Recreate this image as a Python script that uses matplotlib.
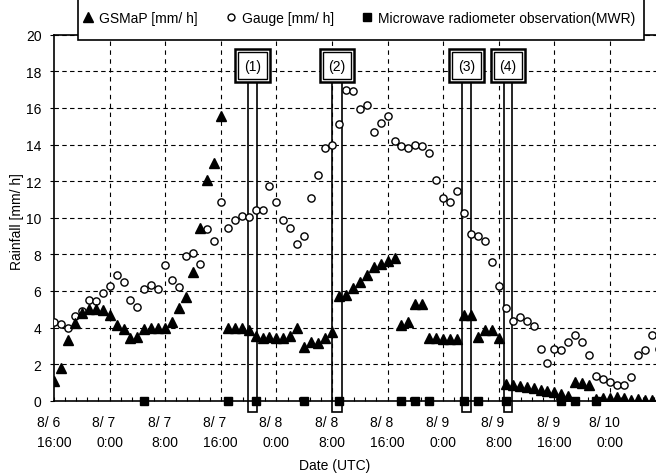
import numpy as np
import matplotlib.pyplot as plt
from matplotlib.patches import Rectangle
from matplotlib.lines import Line2D

plt.rcParams['font.family'] = ['Liberation Sans', 'DejaVu Sans']
plt.rcParams['font.size'] = 10

# hourly values starting 8/6 16:00 UTC
gsmap = [1.05, 1.8, 3.3, 4.25, 4.8, 5.0, 5.0, 4.95, 4.7, 4.15,
         3.9, 3.4, 3.5, 3.9, 4.0, 4.0, 4.0, 4.3, 5.05, 5.65,
         7.05, 9.45, 12.05, 13.0, 15.55, 4.0, 3.95, 3.95, 3.85, 3.55,
         3.45, 3.5, 3.45, 3.45, 3.55, 3.95, 2.95, 3.2, 3.15, 3.4,
         3.75, 5.7, 5.8, 6.15, 6.5, 6.85, 7.3, 7.45, 7.65, 7.8,
         4.15, 4.3, 5.3, 5.3, 3.45, 3.45, 3.35, 3.35, 3.35, 4.7,
         4.7, 3.5, 3.85, 3.85, 3.45, 0.9, 0.85, 0.8, 0.75, 0.68,
         0.6, 0.52, 0.45, 0.35, 0.25, 1.0, 0.95, 0.85, 0.1, 0.15,
         0.15, 0.2, 0.15, 0.05, 0.1, 0.05, 0.05]
gauge = [4.3, 4.2, 4.0, 4.65, 4.9, 5.5, 5.45, 5.9, 6.25, 6.85,
         6.5, 5.5, 5.1, 6.1, 6.3, 6.1, 7.4, 6.6, 6.2, 7.9,
         8.05, 7.45, 9.4, 8.75, 10.85, 9.45, 9.85, 10.1, 10.05, 10.4,
         10.4, 11.75, 10.85, 9.9, 9.45, 8.55, 9.0, 11.05, 12.35, 13.8,
         13.95, 15.1, 17.0, 16.9, 15.95, 16.15, 14.7, 15.2, 15.55, 14.2,
         13.9, 13.8, 13.95, 13.9, 13.55, 12.05, 11.05, 10.85, 11.45, 10.25,
         9.1, 9.0, 8.75, 7.6, 6.25, 5.05, 4.35, 4.55, 4.35, 4.1,
         2.85, 2.05, 2.85, 2.75, 3.2, 3.6, 3.2, 2.5, 1.35, 1.2,
         1.0, 0.85, 0.85, 1.3, 2.5, 2.75, 3.6, 2.85]
mwr_hours = [13, 25, 29, 36, 41, 50, 52, 54, 59, 61, 65, 73, 75, 78]

tick_dates = ['8/ 6', '8/ 7', '8/ 7', '8/ 7', '8/ 8', '8/ 8', '8/ 8',
              '8/ 9', '8/ 9', '8/ 9', '8/ 10']
tick_times = ['16:00', '0:00', '8:00', '16:00', '0:00', '8:00', '16:00',
              '0:00', '8:00', '16:00', '0:00']

events = ['(1)', '(2)', '(3)', '(4)']
event_left = [27.9, 40.0, 58.7, 64.7]
event_right = [29.2, 41.4, 60.0, 65.9]

W, H = 656, 477
fig = plt.figure(figsize=(W / 100, H / 100), dpi=100)
x0, x1 = 54, 720
y0, y1 = 401.7, 35.7
ax = fig.add_axes([x0 / W, 1 - y0 / H, (x1 - x0) / W, (y0 - y1) / H])
px_per_h = 6.95
ax.set_xlim(0, (x1 - x0) / px_per_h)
ax.set_ylim(0, 20)

hours_g = np.arange(len(gsmap))
hours_o = np.arange(len(gauge))

ax.plot(hours_o, gauge, 'o', ms=5.2, mfc='white', mec='black', mew=1.0,
        ls='none', zorder=4)
ax.plot(hours_g, gsmap, '^', ms=7, color='black', ls='none', zorder=5)
ax.plot(mwr_hours, np.zeros(len(mwr_hours)), 's', ms=5.5, color='black',
        ls='none', zorder=6, clip_on=False)

# event markers
box_w = 4.95
for lab, l, r in zip(events, event_left, event_right):
    c = (l + r) / 2
    ax.add_patch(Rectangle((l, -0.62), r - l, 17.43 + 0.62, fill=False,
                           ec='black', lw=1.2, clip_on=False, zorder=3))
    ax.add_patch(Rectangle((c - box_w / 2, 17.43), box_w, 1.77, fc='white',
                           ec='black', lw=1.8, clip_on=False, zorder=7))
    dx, dy = 3 / px_per_h, 3 / 18.3
    ax.add_patch(Rectangle((c - box_w / 2 + dx, 17.43 + dy), box_w - 2 * dx,
                           1.77 - 2 * dy, fill=False, ec='black', lw=1.0,
                           clip_on=False, zorder=8))
    ax.text(c, 18.3, lab, ha='center', va='center', fontsize=10, zorder=9)

ax.set_xticks(np.arange(0, 81, 8))
ax.set_xticklabels([d + '   \n' + t for d, t in zip(tick_dates, tick_times)],
                   linespacing=1.55)
ax.set_xticks(np.arange(0, 92, 1.6), minor=True)
ax.tick_params(axis='x', which='both', direction='in', length=3, width=0.8,
               pad=10)
ax.set_yticks(np.arange(0, 21, 2))
ax.tick_params(axis='y', direction='out', length=3, width=0.8, pad=6)

ax.grid(True, which='major', color='black', ls=(0, (4, 3)), lw=0.8)
ax.xaxis.grid(True, ls=(0, (4, 4)))
for g in ax.get_xgridlines()[:1] + ax.get_ygridlines()[:1]:
    g.set_visible(False)
for s in ax.spines.values():
    s.set_linewidth(1.2)

fig.text(335 / W, 1 - 466 / H, 'Date (UTC)', ha='center', va='center',
         fontsize=10)
fig.text(17 / W, 1 - 222 / H, 'Rainfall [mm/ h]', ha='center', va='center',
         rotation=90, fontsize=10)

# legend
fig.patches.append(Rectangle((78 / W, 1 - 40.7 / H), (644 - 78) / W,
                             0.2, transform=fig.transFigure, fc='white',
                             ec='black', lw=1.2, zorder=4))
handles = [Line2D([], [], marker='^', color='black', ls='none', ms=7),
           Line2D([], [], marker='o', mfc='white', mec='black', ls='none',
                  ms=5),
           Line2D([], [], marker='s', color='black', ls='none', ms=5.5)]
labels = ['GSMaP [mm/ h]', 'Gauge [mm/ h]',
          'Microwave radiometer observation(MWR)']
fig.legend(handles, labels, loc='center left', ncol=3, frameon=False,
           bbox_to_anchor=(82 / W, 1 - 19 / H), handlelength=0.8,
           handletextpad=0.4, columnspacing=2.0, fontsize=10, borderpad=0,
           borderaxespad=0)

fig.savefig('out.png', dpi=100)
